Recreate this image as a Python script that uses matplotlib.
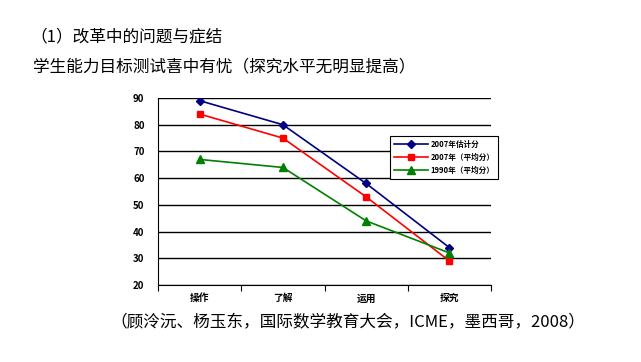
import matplotlib
matplotlib.use('Agg')
import matplotlib.pyplot as plt

plt.rcParams['font.family'] = ['Noto Sans CJK SC', 'DejaVu Sans']

categories = ['操作', '了解', '运用', '探究']
est_2007 = [89, 80, 58, 34]
avg_2007 = [84, 75, 53, 29]
avg_1990 = [67, 64, 44, 32]
series_labels = ['2007年估计分', '2007年（平均分）', '1990年（平均分）']

fig = plt.figure(figsize=(6.41, 3.62), dpi=100)
fig.text(30 / 641, 1 - 37 / 362, '（1）改革中的问题与症结', fontsize=12, va='center')
fig.text(33 / 641, 1 - 67 / 362, '学生能力目标测试喜中有忧（探究水平无明显提高）',
         fontsize=12, va='center')
fig.text(110 / 641, 1 - 323 / 362,
         '（顾泠沅、杨玉东，国际数学教育大会，ICME，墨西哥，2008）',
         fontsize=12, va='center')

ax = fig.add_axes([158 / 641, 1 - 285 / 362, 333 / 641, 187 / 362])
x = range(len(categories))
ax.plot(x, est_2007, color='#000080', marker='D', markersize=4, lw=1.2,
        label=series_labels[0])
ax.plot(x, avg_2007, color='red', marker='s', markersize=5, lw=1.2,
        label=series_labels[1])
ax.plot(x, avg_1990, color='green', marker='^', markersize=6, lw=1.2,
        label=series_labels[2])

ax.set_xlim(-0.5, 3.5)
ax.set_ylim(20, 90)
ax.set_yticks(range(20, 91, 10))
ax.yaxis.grid(True, color='black', lw=1)
ax.set_axisbelow(True)
ax.set_xticks([-0.5, 0.5, 1.5, 2.5, 3.5])
ax.set_xticklabels([])
ax.set_xticks(list(x), minor=True)
ax.set_xticklabels(categories, minor=True, fontsize=7, fontweight='bold')
ax.tick_params(axis='x', which='major', length=4, direction='out')
ax.tick_params(axis='x', which='minor', length=0, pad=6)
ax.tick_params(axis='y', length=0, labelsize=7, pad=18)
for lbl in ax.get_yticklabels():
    lbl.set_fontweight('bold')
    lbl.set_horizontalalignment('left')
ax.spines['top'].set_visible(False)
ax.spines['right'].set_visible(False)

leg = ax.legend(loc='upper left', bbox_to_anchor=(228 / 333, 1 - 34 / 187),
                prop={'size': 5.5, 'weight': 'bold'}, frameon=True,
                fancybox=False, edgecolor='black', framealpha=1,
                handlelength=4.5, handletextpad=0.3, borderpad=0.5,
                labelspacing=0.55)
leg.get_frame().set_linewidth(0.8)

fig.savefig('out.png', dpi=100)
